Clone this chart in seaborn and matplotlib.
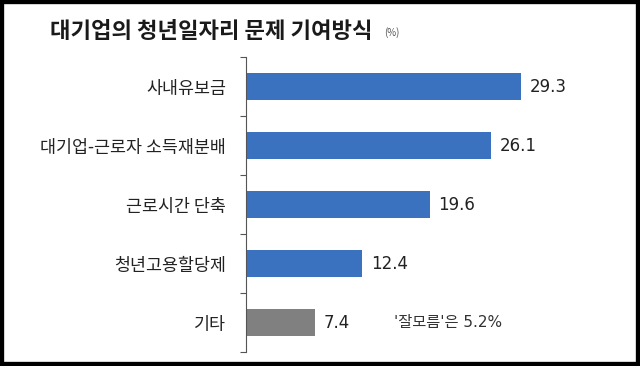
import numpy as np
import pandas as pd
import matplotlib
matplotlib.use("Agg")
import matplotlib.pyplot as plt
from matplotlib.patches import Rectangle
import seaborn as sns

# data
categories = ["사내유보금", "대기업-근로자 소득재분배", "근로시간 단축", "청년고용할당제", "기타"]
values = [29.3, 26.1, 19.6, 12.4, 7.4]
bar_colors = ["#3a72c0", "#3a72c0", "#3a72c0", "#3a72c0", "#808080"]
title = "대기업의 청년일자리 문제 기여방식"
unit = "(%)"
note = "'잘모름'은 5.2%"

sns.set_style("white")
plt.rcParams["font.family"] = ["Noto Sans CJK KR", "DejaVu Sans"]
num_font = ["DejaVu Sans", "Noto Sans CJK KR"]

df = pd.DataFrame({"cat": categories, "val": values})

fig = plt.figure(figsize=(6.4, 3.66), dpi=100)
ax = fig.add_axes([0.384, 0.038, 0.514, 0.806])

sns.barplot(data=df, x="val", y="cat", hue="cat", palette=bar_colors, saturation=1,
            width=0.47, legend=False, ax=ax, edgecolor="none")

for i, v in enumerate(values):
    ax.text(v + 0.9, i, f"{v}", va="center", ha="left", fontsize=12,
            color="#222222", family=num_font)

ax.text(15.8, 4, note, va="center", ha="left", fontsize=11, color="#333333", family=num_font)

ax.set_xlim(0, 35)
ax.set_ylim(4.5, -0.5)
ax.set_xlabel("")
ax.set_ylabel("")
ax.set_xticks([])
ax.set_yticks(np.arange(-0.5, len(categories), 1.0), minor=True)
ax.tick_params(axis="y", which="major", length=0, pad=14, labelsize=12.5, labelcolor="#222222")
ax.tick_params(axis="y", which="minor", length=4, width=0.8, color="#555555", direction="out", left=True)
for s in ["top", "right", "bottom"]:
    ax.spines[s].set_visible(False)
ax.spines["left"].set_color("#555555")
ax.spines["left"].set_linewidth(0.8)

fig.text(0.078, 0.915, title, fontsize=16, fontweight="bold", color="#1a1a1a", va="center", ha="left")
fig.text(0.600, 0.910, unit, fontsize=7, color="#555555", va="center", ha="left")

# black frame around the picture
fig.patches.append(Rectangle((0, 0), 1, 1, transform=fig.transFigure, fill=False,
                             edgecolor="black", linewidth=6, zorder=10))

fig.savefig("out.png", dpi=100)
